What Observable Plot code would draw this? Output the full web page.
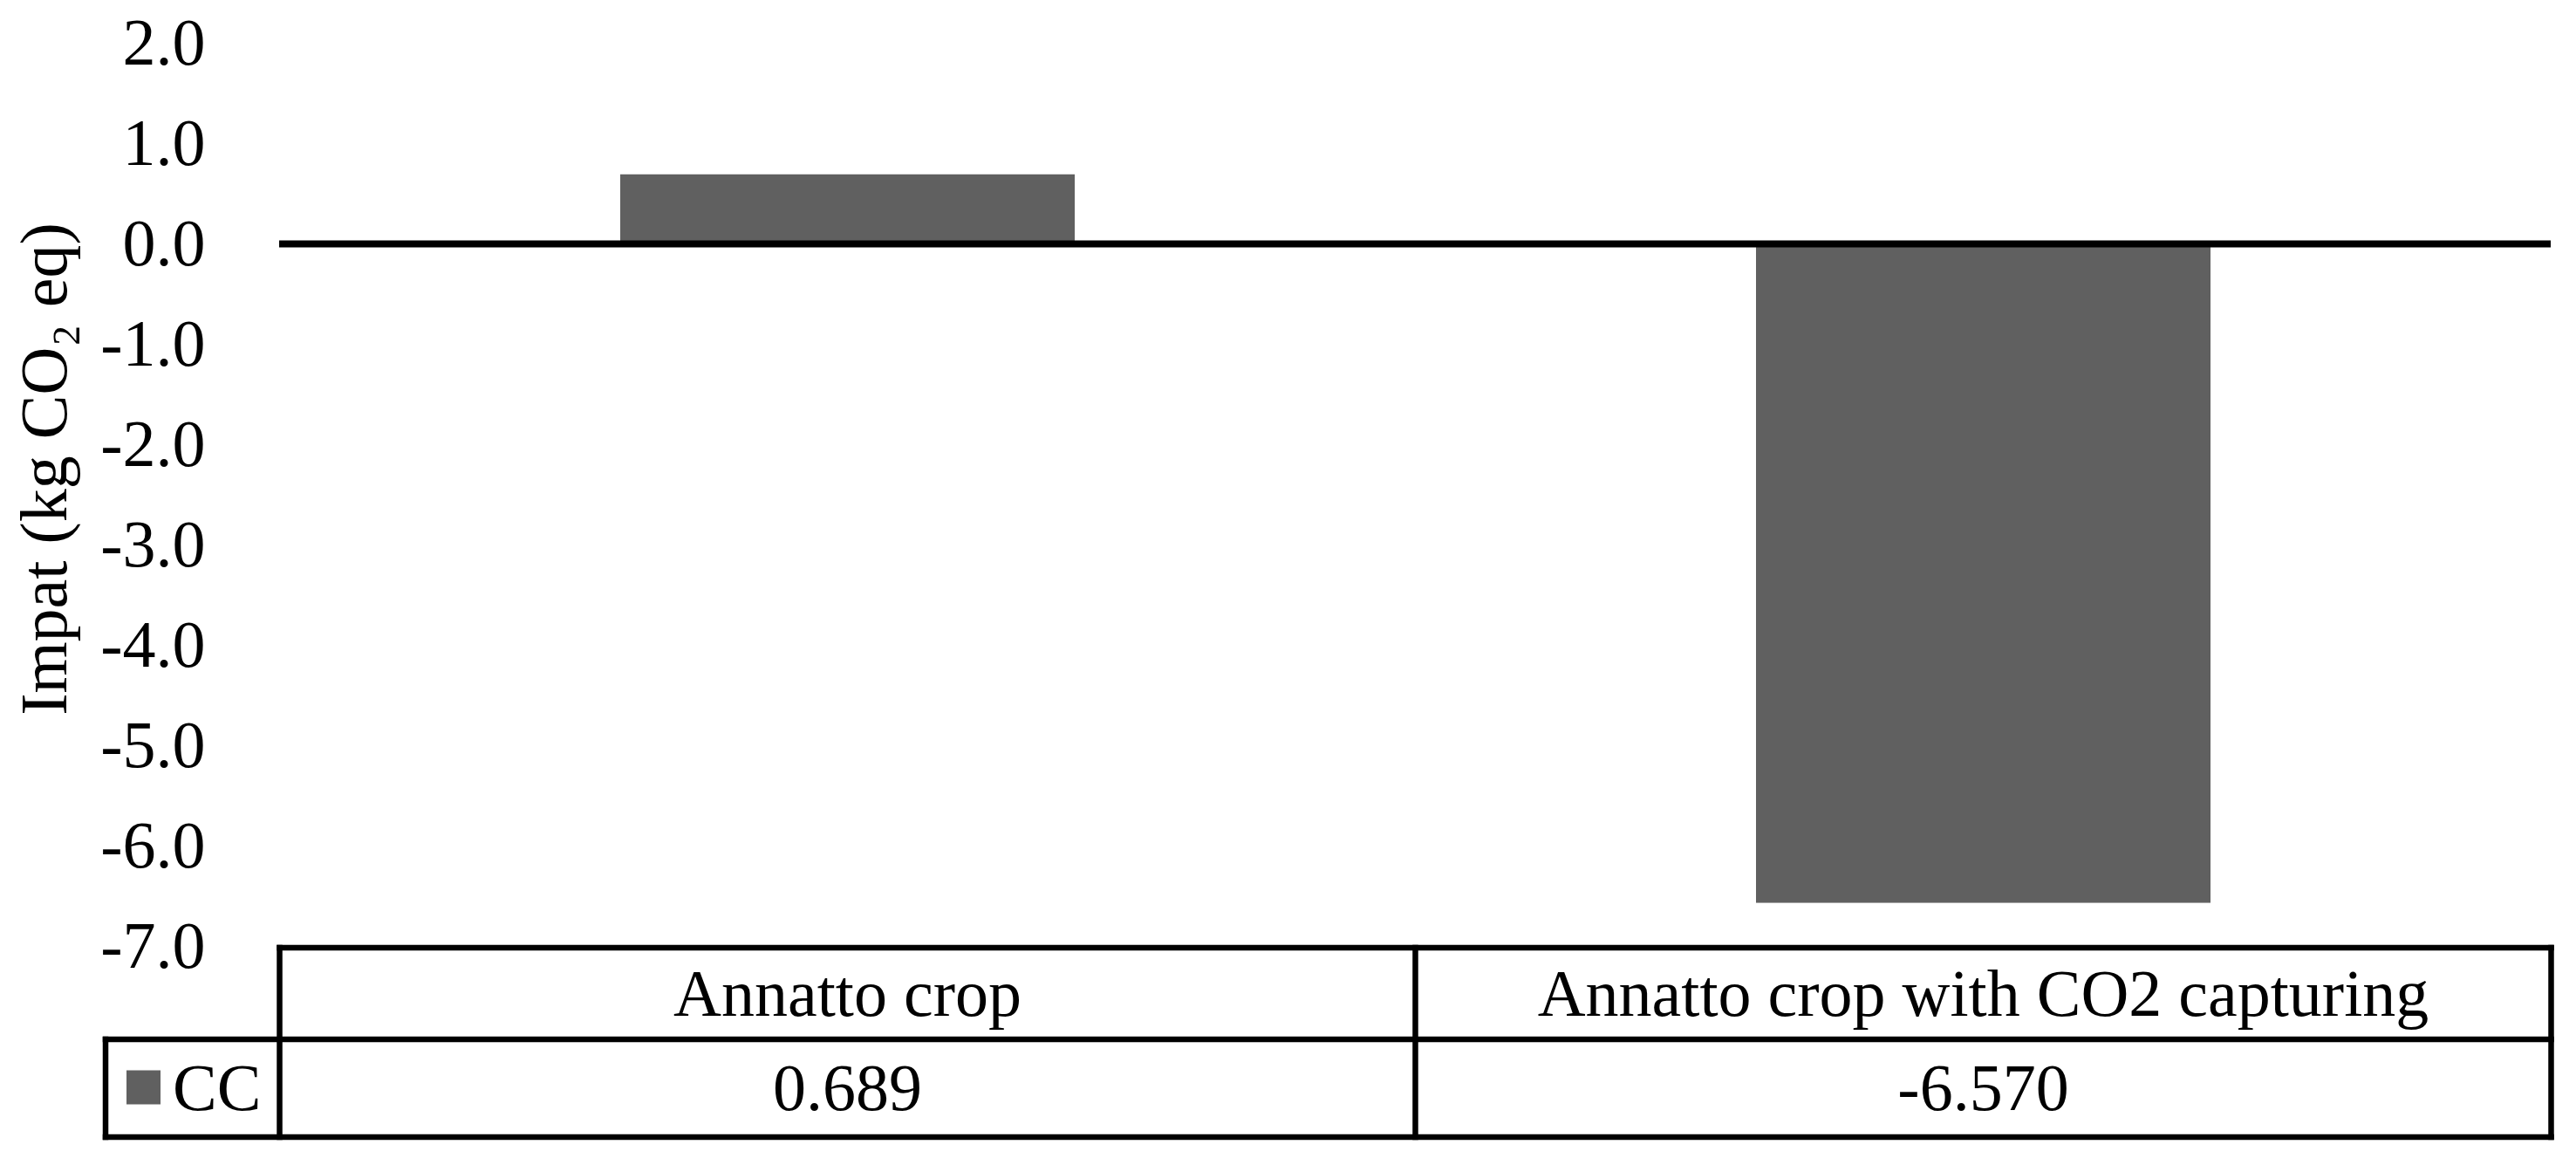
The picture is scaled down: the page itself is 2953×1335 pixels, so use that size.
<!DOCTYPE html>
<html><head><meta charset="utf-8">
<script src="https://cdn.jsdelivr.net/npm/d3@7"></script>
<script src="https://cdn.jsdelivr.net/npm/@observablehq/plot@0.6"></script>
<style>
html,body{margin:0;padding:0;background:#fff;}
#chart svg{display:block;}
</style></head><body><div id="chart"></div>
<script>
// ---- data ----
const categories = ["Annatto crop", "Annatto crop with CO2 capturing"];
const values = [0.689, -6.570];
const valueLabels = ["0.689", "-6.570"];
const seriesName = "CC";
const yTicks = [2, 1, 0, -1, -2, -3, -4, -5, -6, -7];
const yDomain = [-7, 2];
const yLabel = "Impat (kg CO\u2082 eq)";

const data = categories.map((c, i) => ({category: c, value: values[i], label: valueLabels[i]}));

(function () {
// ---- style ----
const W = 2953, H = 1335;
const FONT = '"Liberation Serif","Times New Roman",Times,serif';
const FS = 76;
const BAR = "#606060";

const chart = Plot.plot({
  width: W, height: H,
  marginLeft: 320, marginRight: 29, marginTop: 49, marginBottom: 251,
  style: {fontFamily: FONT, fontSize: FS + "px", color: "#000", background: "#fff"},
  x: {domain: categories, paddingInner: 0.6, paddingOuter: 0.3, axis: null},
  y: {domain: yDomain, ticks: yTicks, tickFormat: d => d.toFixed(1), tickSize: 0, tickPadding: 85, label: null},
  marks: [
    Plot.barY(data, {x: "category", y: "value", fill: BAR}),
    Plot.ruleY([0], {stroke: "#000", strokeWidth: 8}),
    Plot.text([yLabel], {frameAnchor: "left", text: d => d, rotate: -90, dx: -269, dy: -29.5, fontSize: FS, lineAnchor: "middle", textAnchor: "middle", fill: "#000"})
  ]
});
document.getElementById("chart").appendChild(chart);

// ---- data table below the plot, positioned from the scales ----
const xs = chart.scale("x");
const ys = chart.scale("y");
const step = xs.step, bw = xs.bandwidth;
const colLeft = categories.map(c => xs.apply(c) - (step - bw) / 2);
const tLeft = colLeft[0];
const tRight = colLeft[colLeft.length - 1] + step;
const tTop = ys.apply(yDomain[0]) + 2;
const row1H = 105, row2H = 112;
const tMid = tTop + row1H, tBottom = tMid + row2H;
const legendLeft = 121;
const LW = 6.5;

const svg = d3.select(chart);
const g = svg.append("g").attr("fill", "none").attr("stroke", "#000").attr("stroke-width", LW).attr("stroke-linecap", "square");
const line = (x1, y1, x2, y2) => g.append("line").attr("x1", x1).attr("y1", y1).attr("x2", x2).attr("y2", y2);
line(tLeft, tTop, tRight, tTop);
line(legendLeft, tMid, tRight, tMid);
line(legendLeft, tBottom, tRight, tBottom);
line(legendLeft, tMid, legendLeft, tBottom);
colLeft.forEach(x => line(x, tTop, x, tBottom));
line(tRight, tTop, tRight, tBottom);

const tg = svg.append("g").attr("font-family", FONT).attr("font-size", FS).attr("fill", "#000");
categories.forEach((c, i) => {
  tg.append("text").attr("x", colLeft[i] + step / 2).attr("y", (tTop + tMid) / 2).attr("dy", "0.33em").attr("text-anchor", "middle").text(c);
  tg.append("text").attr("x", colLeft[i] + step / 2).attr("y", (tMid + tBottom) / 2).attr("dy", "0.33em").attr("text-anchor", "middle").text(data[i].label);
});
// legend key
const sw = 39;
svg.append("rect").attr("x", legendLeft + 24).attr("y", (tMid + tBottom) / 2 - sw / 2 - 1).attr("width", sw).attr("height", sw).attr("fill", BAR);
tg.append("text").attr("x", legendLeft + 24 + sw + 14).attr("y", (tMid + tBottom) / 2).attr("dy", "0.33em").attr("text-anchor", "start").text(seriesName);
})();
</script>
</body></html>
